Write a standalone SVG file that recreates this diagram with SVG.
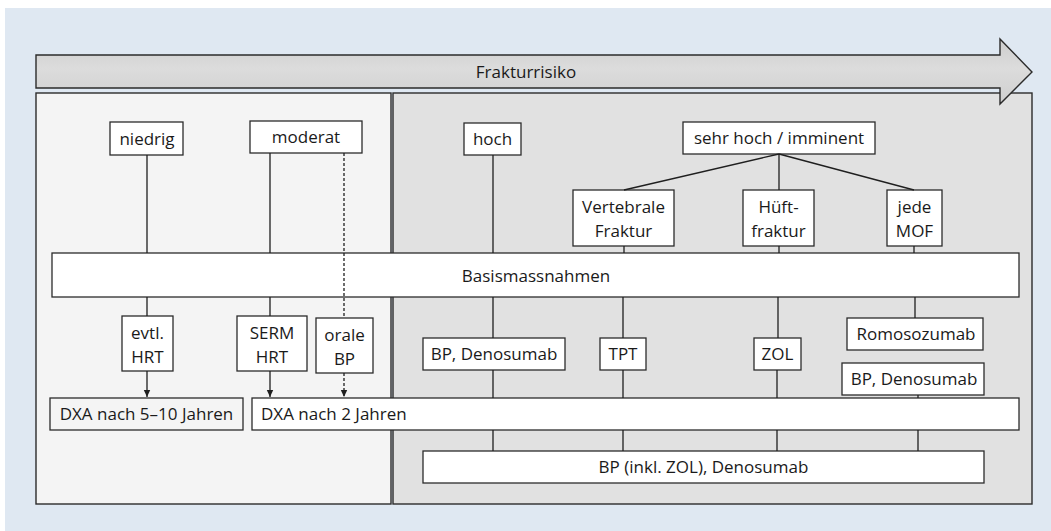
<svg xmlns="http://www.w3.org/2000/svg" width="1051" height="531" viewBox="0 0 1051 531">
  <style>
    text { font-family: "Open Sans", "Noto Sans", "Liberation Sans", sans-serif; font-size: 17px; fill: #1a1a1a; text-anchor: middle; }
    .box { fill: #ffffff; stroke: #2b2b2b; stroke-width: 1.3; }
    .box-soft { fill: #f4f4f4; stroke: #2b2b2b; stroke-width: 1.3; }
    .panel { stroke: #2b2b2b; stroke-width: 1.4; }
    .link { fill: none; stroke: #1f1f1f; stroke-width: 1.3; }
    .dashed { stroke-dasharray: 3 2; }
  </style>
  <defs>
    <linearGradient id="arrowFill" x1="0" y1="0" x2="0" y2="1">
      <stop offset="0" stop-color="#cdcdcd"/>
      <stop offset="0.45" stop-color="#dcdcdc"/>
      <stop offset="1" stop-color="#cfcfcf"/>
    </linearGradient>
    <marker id="head" markerUnits="userSpaceOnUse" markerWidth="8" markerHeight="8" viewBox="0 0 8 8" refX="4" refY="8" orient="auto-start-reverse">
      <path d="M0.5,1 L7.5,1 L4,8 Z" fill="#1f1f1f" transform="rotate(-90 4 4)"/>
    </marker>
    <marker id="tip" markerUnits="userSpaceOnUse" markerWidth="8" markerHeight="8" viewBox="0 0 8 8" refX="7" refY="4" orient="auto">
      <path d="M0,0.8 L7,4 L0,7.2 Z" fill="#1f1f1f"/>
    </marker>
  </defs>

  <!-- backdrop -->
  <rect x="5" y="8" width="1046" height="523" fill="#dfe8f2"/>

  <!-- risk panels -->
  <rect class="panel" x="36" y="93" width="355" height="411" fill="#f4f4f4"/>
  <rect class="panel" x="393" y="93" width="639" height="411" fill="#e1e1e1"/>

  <!-- risk axis arrow -->
  <g id="axis">
    <path d="M36,55 H1000 V39 L1032,72 L1000,104 V88 H36 Z" fill="url(#arrowFill)" stroke="#2b2b2b" stroke-width="1.4"/>
    <text x="526" y="78">Frakturrisiko</text>
  </g>

  <g id="nodes">
    <g id="niedrig"><rect class="box" x="110" y="122" width="73" height="33"/><text x="147" y="145">niedrig</text></g>
    <g id="moderat"><rect class="box" x="250" y="121" width="112" height="32"/><text x="306" y="143">moderat</text></g>
    <g id="hoch"><rect class="box" x="464" y="123" width="57" height="32"/><text x="492.5" y="145">hoch</text></g>
    <g id="sehr-hoch"><rect class="box" x="683" y="122" width="192" height="32"/><text x="779" y="144">sehr hoch / imminent</text></g>

    <g id="vertebrale"><rect class="box" x="573" y="190" width="101" height="56"/><text x="623.5" y="213">Vertebrale</text><text x="623.5" y="237">Fraktur</text></g>
    <g id="hueft"><rect class="box" x="743" y="190" width="71" height="56"/><text x="778.5" y="213">Hüft-</text><text x="778.5" y="237">fraktur</text></g>
    <g id="mof"><rect class="box" x="887" y="190" width="55" height="56"/><text x="914.5" y="213">jede</text><text x="914.5" y="237">MOF</text></g>

    <g id="basis"><rect class="box" x="52" y="253" width="967" height="44"/><text x="536" y="282">Basismassnahmen</text></g>

    <g id="evtl-hrt"><rect class="box" x="122" y="316" width="51" height="55"/><text x="147.5" y="339">evtl.</text><text x="147.5" y="363">HRT</text></g>
    <g id="serm-hrt"><rect class="box" x="237" y="316" width="70" height="55"/><text x="272" y="339">SERM</text><text x="272" y="363">HRT</text></g>
    <g id="orale-bp"><rect class="box" x="316" y="318" width="57" height="55"/><text x="344.5" y="341">orale</text><text x="344.5" y="365">BP</text></g>

    <g id="bp-deno-1"><rect class="box" x="423" y="338" width="142" height="32"/><text x="494" y="360">BP, Denosumab</text></g>
    <g id="tpt"><rect class="box" x="600" y="338" width="46" height="32"/><text x="623" y="360">TPT</text></g>
    <g id="zol"><rect class="box" x="754" y="338" width="47" height="32"/><text x="777.5" y="360">ZOL</text></g>
    <g id="romo"><rect class="box" x="847" y="318" width="136" height="32"/><text x="916" y="340">Romosozumab</text></g>
    <g id="bp-deno-2"><rect class="box" x="842" y="363" width="142" height="32"/><text x="914" y="385">BP, Denosumab</text></g>

    <g id="dxa-5-10"><rect class="box-soft" x="50" y="398" width="193" height="32"/><text x="146.5" y="420">DXA nach 5–10 Jahren</text></g>
    <g id="dxa-2"><rect class="box" x="252" y="398" width="767" height="32"/><text x="261" y="420" style="text-anchor:start">DXA nach 2 Jahren</text></g>

    <g id="bp-zol-deno"><rect class="box" x="423" y="451" width="561" height="32"/><text x="703.5" y="473">BP (inkl. ZOL), Denosumab</text></g>
  </g>

  <g id="connectors">
    <!-- low risk -->
    <path class="link" d="M147,155 V253 M147,297 V316"/>
    <path class="link" d="M147,371 V397" marker-end="url(#tip)"/>
    <!-- moderate risk -->
    <path class="link" d="M270,153 V253 M270,297 V316"/>
    <path class="link" d="M270,371 V397" marker-end="url(#tip)"/>
    <path class="link dashed" d="M344,153 V318"/>
    <path class="link dashed" d="M344,373 V397" marker-end="url(#tip)"/>
    <!-- high risk -->
    <path class="link" d="M493,155 V253 M493,297 V338 M493,370 V398 M493,430 V451"/>
    <!-- very high / imminent risk -->
    <path class="link" d="M779,154 L624,190 M779,154 V190 M779,154 L914,190"/>
    <path class="link" d="M624,246 V253 M623,297 V338 M623,370 V398 M623,430 V451"/>
    <path class="link" d="M779,246 V253 M778,297 V338 M777,370 V398 M777,430 V451"/>
    <path class="link" d="M914,246 V253 M915,297 V318 M918,395 V398 M918,430 V451"/>
  </g>
</svg>
